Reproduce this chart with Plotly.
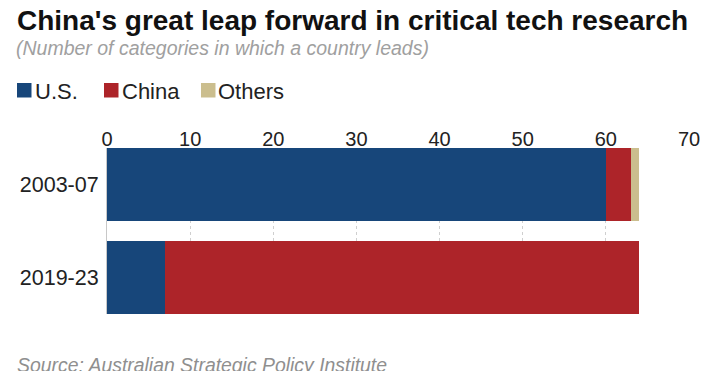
import plotly.graph_objects as go

periods = ["2003-07", "2019-23"]
series_names = ["U.S.", "China", "Others"]
us = [60, 7]
china = [3, 57]
others = [1, 0]
series_values = [us, china, others]
colors = ["#17467A", "#AD2429", "#CBBE8E"]
x_ticks = [0, 10, 20, 30, 40, 50, 60, 70]

# page body has an 8px margin; figure coordinates below are window - 8
W, H = 719, 363
L, R, T, B = 99, 38, 140, 57
pw, ph = W - L - R, H - T - B

def px(x):
    return (x - L) / pw

def py(y):
    return (H - B - y) / ph

font = "Liberation Sans, Arial, sans-serif"

fig = go.Figure()
for name, vals, col in zip(series_names, series_values, colors):
    fig.add_trace(go.Bar(
        y=periods, x=vals, name=name, orientation="h",
        marker=dict(color=col, line=dict(width=0)),
        width=0.785, showlegend=False, hoverinfo="x+name",
    ))

annotations = [
    dict(text="<b>China's great leap forward in critical tech research</b>",
         x=px(7), y=py(12.5), xanchor="left", yanchor="middle",
         font=dict(size=28, color="#111111", family=font)),
    dict(text="<i>(Number of categories in which a country leads)</i>",
         x=px(6), y=py(40), xanchor="left", yanchor="middle",
         font=dict(size=19.5, color="#a0a0a0", family=font)),
    dict(text="<i>Source: Australian Strategic Policy Institute</i>",
         x=px(7), y=py(357), xanchor="left", yanchor="middle",
         font=dict(size=19.4, color="#8f8f8f", family=font)),
]
shapes = []
leg_sq = [9, 96, 193]
leg_txt = [25, 112, 208]
for i, (name, col) in enumerate(zip(series_names, colors)):
    x0 = leg_sq[i]
    shapes.append(dict(type="rect", xref="paper", yref="paper",
                       x0=px(x0), x1=px(x0 + 14.5), y0=py(89.5), y1=py(75),
                       fillcolor=col, line=dict(width=0)))
    annotations.append(dict(text=name, x=px(leg_txt[i]), y=py(83),
                            xanchor="left", yanchor="middle",
                            font=dict(size=22, color="#222222", family=font)))
for a in annotations:
    a.update(xref="paper", yref="paper", showarrow=False)

fig.update_layout(
    width=W, height=H,
    margin=dict(l=L, r=R, t=T, b=B, pad=0),
    barmode="stack",
    plot_bgcolor="white", paper_bgcolor="white",
    annotations=annotations, shapes=shapes,
    xaxis=dict(range=[0, 70], side="top", tickvals=x_ticks,
               tickfont=dict(size=20, color="#222222", family=font),
               ticklabelstandoff=-3,
               showgrid=True, gridcolor="#cfcfcf", griddash="dot", gridwidth=1,
               zeroline=False, showline=False, ticks="", ticklen=0),
    yaxis=dict(type="category", categoryarray=periods,
               range=[1.392, -0.392], ticks="", showgrid=False,
               tickfont=dict(size=21.5, color="#222222", family=font),
               ticklabelstandoff=3,
               showline=True, linecolor="#c8c8c8", linewidth=1, zeroline=False),
)

fig.write_html("out.html")
